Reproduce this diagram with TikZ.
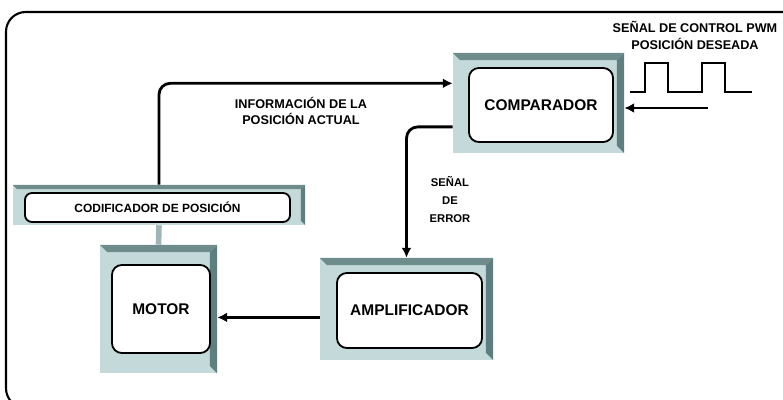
\documentclass[tikz,border=0pt]{standalone}
\usepackage{fontspec}
\setmainfont{Liberation Sans}
\usetikzlibrary{arrows.meta,positioning,calc}
\definecolor{bev}{HTML}{C4DADA}
\definecolor{bevdk}{HTML}{6F8C8C}
\definecolor{bevrt}{HTML}{5E7E80}
\definecolor{lnk}{HTML}{9FB4B4}
\tikzset{
  frame/.style={line width=1.5pt, rounded corners=14pt},
  bevel/.style={fill=bev, draw=none, inner sep=0pt, path picture={
      \fill[bevdk] (path picture bounding box.north west) -- (path picture bounding box.north east)
        -- ([shift={(-#1,-#1)}]path picture bounding box.north east) -- ([shift={(#1,-#1)}]path picture bounding box.north west) -- cycle;
      \fill[bevrt] (path picture bounding box.north east) -- (path picture bounding box.south east)
        -- ([shift={(-#1,#1)}]path picture bounding box.south east) -- ([shift={(-#1,-#1)}]path picture bounding box.north east) -- cycle;
  }},
  bevel/.default=5pt,
  face/.style={draw, fill=white, line width=1.3pt, rounded corners=7pt, align=center, font=\fontsize{11}{13}\selectfont\bfseries},
  lbl/.style={font=\fontsize{9}{12}\selectfont\bfseries, align=center, inner sep=1pt},
  sig/.style={-{Latex[length=7pt,width=7pt]}, line width=2pt, rounded corners=8pt},
  link/.style={lnk, line width=4pt},
  wave/.style={line width=1.6pt},
}

\begin{document}
\begin{tikzpicture}[x=0.025cm,y=-0.025cm]
  \useasboundingbox (0,0) rectangle (783,400);
  \clip (0,0) rectangle (783,400);
  \draw[frame] (60,408) -- (6,408) -- (6,12) -- (790,12);

  \node[bevel, minimum width=4.275cm, minimum height=2.5cm] (comp) at (538.5,103) {};
  \node[face, minimum width=3.6cm, minimum height=1.85cm] (compf) at (541,105) {COMPARADOR};
  \node[bevel, minimum width=4.325cm, minimum height=2.55cm] (amp) at (406.5,309) {};
  \node[face, minimum width=3.625cm, minimum height=1.875cm] (ampf) at (409.5,310.5) {AMPLIFICADOR};
  \node[bevel, minimum width=2.925cm, minimum height=3.2cm] (mot) at (158.5,309) {};
  \node[face, minimum width=2.45cm, minimum height=2.2cm] (motf) at (161,309) {MOTOR};
  \node[bevel=3pt, minimum width=7.3cm, minimum height=1cm] (cod) at (159,205) {};
  \node[face, rounded corners=5pt, minimum width=6.625cm, minimum height=0.725cm, inner sep=1pt,
        font=\fontsize{8.5}{10}\selectfont\bfseries] (codf) at (157.5,207.5) {CODIFICADOR DE POSICIÓN};

  \node[lbl] (pwm) at (695,35) {SEÑAL DE CONTROL PWM\\POSICIÓN DESEADA};
  \node[lbl] (info) at (301,111) {INFORMACIÓN DE LA\\POSICIÓN ACTUAL};
  \node[lbl, font=\fontsize{8}{12.8}\selectfont\bfseries] (err) at (450,200) {SEÑAL\\DE\\ERROR};

  \draw[wave] (630,92) -- (645,92) -- (645,63) -- (668,63) -- (668,92) -- (702,92)
    -- (702,63) -- (725,63) -- (725,92) -- (752,92);
  \coordinate (pwmsrc) at (708,108);

  \draw[sig] (cod.north) |- ([yshift=14pt]comp.west);
  \draw[sig] (pwmsrc) -- (pwmsrc -| comp.east);
  \draw[sig] ([yshift=-17pt]comp.west) -| (amp.north);
  \draw[sig] ([yshift=-6pt]amp.west) -- ([yshift=-6pt]mot.east);
  \draw[link] (cod.south) -- (mot.north);
\end{tikzpicture}
\end{document}
